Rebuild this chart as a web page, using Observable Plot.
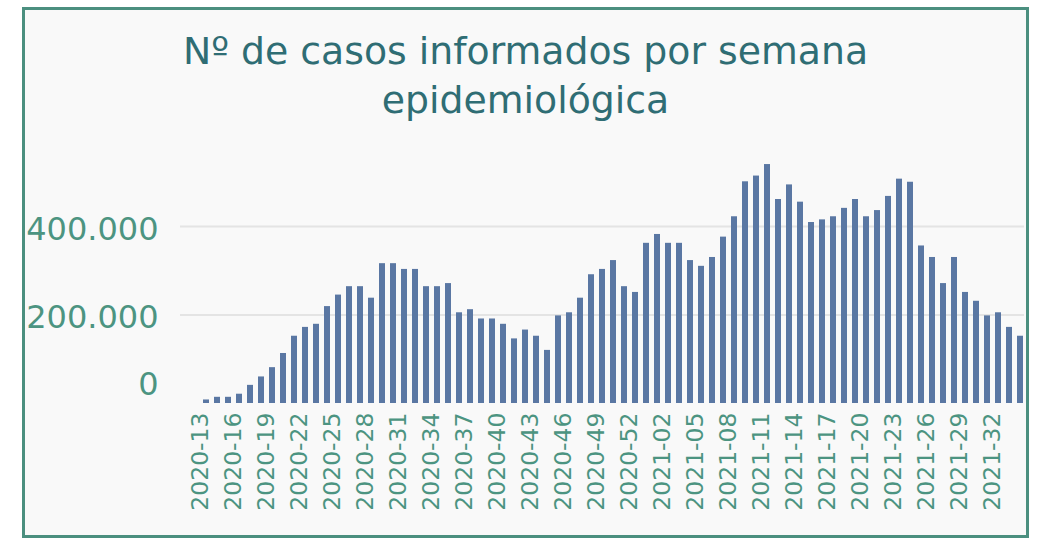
<!DOCTYPE html>
<html><head><meta charset="utf-8">
<script src="https://cdn.jsdelivr.net/npm/d3@7"></script>
<script src="https://cdn.jsdelivr.net/npm/@observablehq/plot@0.6"></script>
<style>
html,body{margin:0;padding:0;background:#fff;width:1038px;height:538px;overflow:hidden;position:relative;font-family:"DejaVu Sans",Verdana,sans-serif;}
#frame{position:absolute;left:22px;top:7px;width:1001px;height:525px;border:3px solid #4b8f7f;background:#f9f9f9;}
#title{position:absolute;left:22px;width:1007px;top:27px;text-align:center;font-size:37.8px;line-height:49px;color:#2f6d74;}
#chart{position:absolute;left:0;top:0;}
</style></head><body>
<div id="frame"></div>
<div id="title">Nº de casos informados por semana<br>epidemiológica</div>
<div id="chart"></div>
<script>
const weeks = [
  "2020-13","2020-14","2020-15","2020-16","2020-17","2020-18","2020-19","2020-20","2020-21","2020-22",
  "2020-23","2020-24","2020-25","2020-26","2020-27","2020-28","2020-29","2020-30","2020-31","2020-32",
  "2020-33","2020-34","2020-35","2020-36","2020-37","2020-38","2020-39","2020-40","2020-41","2020-42",
  "2020-43","2020-44","2020-45","2020-46","2020-47","2020-48","2020-49","2020-50","2020-51","2020-52",
  "2020-53","2021-01","2021-02","2021-03","2021-04","2021-05","2021-06","2021-07","2021-08","2021-09",
  "2021-10","2021-11","2021-12","2021-13","2021-14","2021-15","2021-16","2021-17","2021-18","2021-19",
  "2021-20","2021-21","2021-22","2021-23","2021-24","2021-25","2021-26","2021-27","2021-28","2021-29",
  "2021-30","2021-31","2021-32","2021-33","2021-34"
];
const cases = [
  8000, 14000, 14000, 21000, 41000, 60000, 81000, 113000, 152000, 172000,
  179000, 219000, 245000, 264000, 264000, 238000, 316000, 316000, 303000, 303000,
  264000, 264000, 271000, 205000, 212000, 191000, 191000, 179000, 146000, 166000,
  152000, 120000, 198000, 205000, 238000, 291000, 303000, 323000, 264000, 251000,
  362000, 382000, 362000, 362000, 323000, 310000, 330000, 376000, 422000, 501000,
  514000, 540000, 461000, 494000, 455000, 409000, 415000, 422000, 441000, 461000,
  422000, 436000, 468000, 507000, 500000, 356000, 330000, 271000, 330000, 251000,
  231000, 198000, 205000, 172000, 152000
];
const xTickLabels = [
  "2020-13","2020-16","2020-19","2020-22","2020-25","2020-28","2020-31","2020-34","2020-37",
  "2020-40","2020-43","2020-46","2020-49","2020-52","2021-02","2021-05","2021-08","2021-11",
  "2021-14","2021-17","2021-20","2021-23","2021-26","2021-29","2021-32"
];
const yTicks = [0, 200000, 400000];

const fmt = d3.formatLocale({decimal: ",", thousands: ".", grouping: [3], currency: ["", ""]}).format(",d");
const data = weeks.map((w, i) => ({week: w, cases: cases[i]}));
const labelColor = "#4c9481";

const chart = Plot.plot({
  width: 1038, height: 538,
  marginLeft: 197, marginRight: 10, marginTop: 137.5, marginBottom: 135,
  style: {background: "transparent", fontFamily: "'DejaVu Sans', Verdana, sans-serif", overflow: "visible"},
  x: {type: "band", domain: weeks, padding: 0.48},
  y: {domain: [0, 600000]},
  marks: [
    Plot.gridY(yTicks.filter(d => d > 0), {stroke: "#e4e4e4", strokeOpacity: 1, strokeWidth: 2, insetLeft: -17, insetRight: 4}),
    Plot.barY(data, {x: "week", y: "cases", fill: "#5a77a3"}),
    Plot.axisY(yTicks.filter(d => d > 0), {tickSize: 0, tickPadding: 39, tickFormat: fmt, fontSize: 32, fill: labelColor, dy: 3, label: null}),
    Plot.axisY(yTicks.filter(d => d === 0), {tickSize: 0, tickPadding: 39, tickFormat: fmt, fontSize: 32, fill: labelColor, dy: -19, label: null}),
    Plot.axisX(xTickLabels, {tickSize: 0, tickRotate: -90, tickPadding: 9, fontSize: 23.5, fill: labelColor, dx: -6, label: null})
  ]
});
document.getElementById("chart").appendChild(chart);
</script>
</body></html>
